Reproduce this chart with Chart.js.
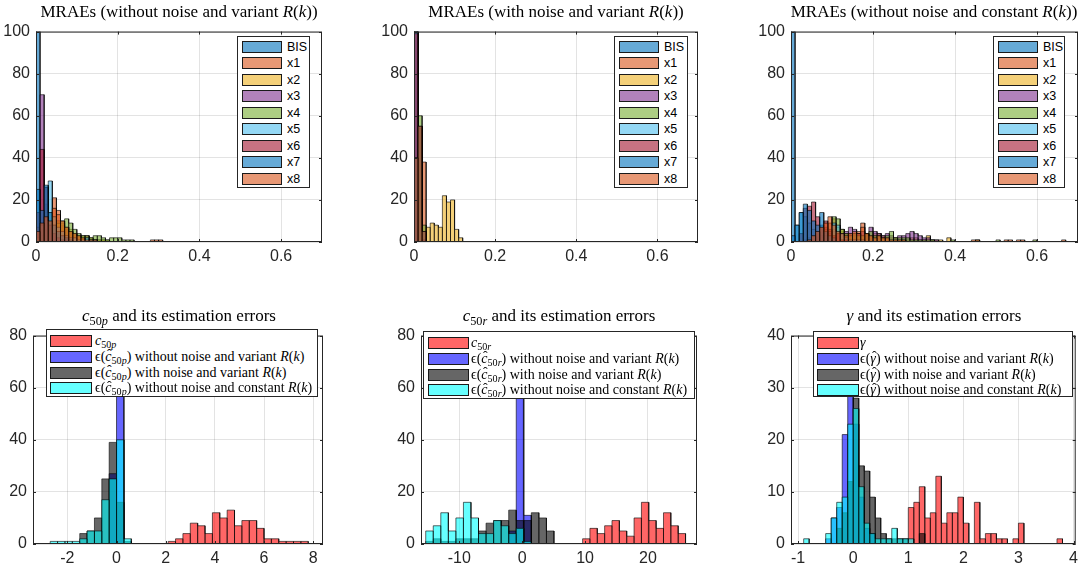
<!DOCTYPE html>
<html>
<head>
<meta charset="utf-8">
<script src="https://cdn.jsdelivr.net/npm/chart.js@4.4.1/dist/chart.umd.min.js"></script>
<style>
body { margin: 0; background: #fff; width: 1084px; height: 572px; position: relative; overflow: hidden; }
canvas { position: absolute; }
.title { position: absolute; font-family: "Liberation Serif", serif; font-size: 17px; color: #000; white-space: nowrap; transform: translate(-50%, -50%); }
.legend { position: absolute; background: #fff; border: 1px solid #262626; box-sizing: border-box; }
.row { position: absolute; left: 0; display: flex; align-items: center; white-space: nowrap; color: #000; }
.sw { box-sizing: border-box; border: 1px solid #1a1a1a; flex: none; }
.sans { font-family: "Liberation Sans", Arial, sans-serif; font-size: 12.5px; }
.serif { font-family: "Liberation Serif", serif; font-size: 14px; }
sub { font-size: 72%; vertical-align: -0.3em; line-height: 0; }
.hat { position: relative; display: inline-block; font-style: italic; }
.hat::after { content: 'ˆ'; position: absolute; left: 0.12em; top: -0.12em; font-style: normal; }
</style>
</head>
<body>
<canvas id="tl"></canvas>
<canvas id="tm"></canvas>
<canvas id="tr"></canvas>
<canvas id="bl"></canvas>
<canvas id="bm"></canvas>
<canvas id="br"></canvas>
<script>
// ---- data ----
const mraeNames = ['BIS', 'x1', 'x2', 'x3', 'x4', 'x5', 'x6', 'x7', 'x8'];
const mraeColors = ['0,114,189', '217,83,25', '237,177,32', '126,47,142', '119,172,48', '77,190,238', '162,20,47', '0,114,189', '217,83,25'];
const mraeBinWidth = 0.01;
const mraeTicksX = [0, 0.2, 0.4, 0.6];
const mraeTicksY = [0, 20, 40, 60, 80, 100];

// counts per bin (bins start at 0), one row per series BIS, x1..x8
const countsNoNoiseVariant = [
  [100],
  [7, 6, 7, 9, 21, 15, 8, 6, 5, 3, 2, 2, 3, 1, 1, 1, 1, 0, 0, 0, 0, 0, 0, 0, 0, 0, 0, 0, 1, 0, 1],
  [2, 8, 14, 14, 12, 10, 9, 7, 6, 4, 3, 3, 2, 2, 1, 1, 1, 1],
  [0, 70, 18, 6, 3, 2, 1],
  [0, 3, 6, 8, 8, 9, 10, 11, 9, 6, 4, 3, 3, 2, 3, 3, 2, 1, 2, 2, 2, 1, 1, 1],
  [0, 8, 26, 29, 12, 7, 5, 3, 2, 2, 1, 1, 2, 1, 1],
  [14, 44, 26, 8, 4, 2, 1, 1],
  [25, 15, 27, 14, 8, 5, 3, 2, 1],
  [5, 9, 12, 10, 16, 13, 10, 7, 5, 4, 3, 2, 1, 1, 1, 0, 0, 0, 0, 0, 0, 0, 0, 0, 0, 0, 0, 0, 0, 1]
];
const countsNoiseVariant = [
  [100],
  [8, 54, 38],
  [0, 0, 0, 7, 9, 8, 7, 22, 19, 20, 6, 2],
  [100],
  [32, 60, 8],
  [100],
  [99, 0, 1],
  [40, 55, 5],
  [40, 55, 5]
];
const countsNoNoiseConstant = [
  [100],
  [0, 0, 0, 1, 2, 3, 4, 6, 7, 9, 11, 7, 5, 4, 3, 4, 5, 9, 4, 3, 3, 2, 2, 2, 1, 1, 1, 1, 1, 0, 0, 0, 0, 0, 0, 0, 0, 0, 0, 0, 0, 0, 0, 0, 1, 0, 0, 0, 0, 0, 0, 0, 1, 0, 0, 1, 0, 0, 0, 0, 0, 0, 0, 0, 0, 0, 1],
  [0, 0, 0, 0, 1, 1, 2, 3, 4, 5, 6, 7, 6, 4, 4, 3, 4, 3, 4, 3, 4, 4, 3, 2, 2, 2, 1, 1, 1, 2, 2, 1, 1, 3, 1, 1, 1, 0, 2],
  [0, 0, 0, 0, 0, 1, 2, 3, 3, 4, 5, 4, 4, 5, 7, 6, 4, 5, 4, 7, 5, 4, 3, 4, 3, 2, 3, 3, 4, 5, 4, 3, 2, 2, 1, 1],
  [0, 0, 0, 0, 0, 0, 1, 2, 3, 4, 12, 11, 6, 4, 3, 4, 3, 3, 4, 5, 3, 3, 2, 3, 5, 2, 2, 2, 2, 1, 1, 1, 1, 1, 1, 0, 0, 0, 0, 1, 0, 0, 0, 0, 0, 1, 0, 0, 0, 0, 1, 0, 0, 0, 0, 0, 0, 0, 0, 1],
  [0, 8, 14, 12, 9, 6, 5, 8, 6, 5, 9, 8, 4, 2, 1, 1, 1, 1],
  [0, 0, 4, 16, 17, 19, 12, 7, 10, 6, 3, 4, 1, 1],
  [3, 8, 14, 18, 15, 10, 8, 14, 5, 3, 2],
  [0, 0, 0, 0, 1, 3, 5, 7, 9, 12, 8, 5, 4, 3, 4, 5, 4, 7, 4, 3, 2, 3, 2, 2, 1, 1, 1, 1, 0, 0, 0, 0, 0, 0, 0, 0, 0, 0, 0, 0, 0, 0, 0, 0, 0, 1, 0, 0, 0, 0, 0, 0, 0, 1, 0, 0, 1]
];

const errColors = ['255,0,0', '0,0,255', '0,0,0', '0,255,255'];

// c50p: red = c50p, blue / black / cyan = estimation errors
const c50pStart = [2.1, -0.3, -1.5, -2.7];
const c50pWidth = [0.3, 0.3, 0.3, 0.3];
const c50pCounts = [
  [1, 2, 4, 8, 7, 4, 12, 10, 13, 7, 9, 9, 6, 2, 2, 1, 1, 1, 1],
  [27, 73],
  [4, 5, 10, 25, 39, 16, 1],
  [1, 1, 1, 1, 2, 5, 5, 17, 25, 40, 2]
];
const c50pTicksX = [-2, 0, 2, 4, 6, 8];
const c50pTicksY = [0, 20, 40, 60, 80];

const c50rStart = [9.6, -2.15, -15.35, -15.35];
const c50rWidth = [1.17, 1.2, 1.2, 1.2];
const c50rCounts = [
  [2, 6, 4, 7, 9, 5, 3, 10, 16, 9, 6, 12, 7, 4],
  [5, 84, 11],
  [1, 2, 1, 1, 2, 2, 2, 5, 8, 9, 9, 13, 9, 9, 12, 10, 5],
  [5, 7, 12, 5, 10, 16, 10, 4, 4, 9, 7, 4, 6, 1]
];
const c50rTicksX = [-10, 0, 10, 20];
const c50rTicksY = [0, 20, 40, 60, 80];

const gammaStart = [1.0, -0.5, -0.3, -0.9];
const gammaWidth = [0.1, 0.1, 0.1, 0.1];
const gammaCounts = [
  [7, 8, 11, 5, 6, 13, 4, 6, 6, 9, 4, 0, 8, 1, 2, 2, 1, 1, 0, 1, 4, 0, 0, 0, 0, 0, 0, 1],
  [1, 5, 7, 21, 29, 23, 9, 3, 2],
  [3, 6, 12, 28, 15, 14, 9, 5, 2, 1, 1, 1, 1, 0, 0, 2],
  [1, 0, 0, 0, 2, 5, 8, 9, 23, 26, 11, 4, 2, 1, 1, 1, 3, 1, 1, 1]
];
const gammaTicksX = [-1, 0, 1, 2, 3, 4];
const gammaTicksY = [0, 10, 20, 30, 40];

const R = '<i>R</i>(<i>k</i>)';
const chat = (s) => '<span class="hat">c</span><sub>50<i>' + s + '</i></sub>';
const c50pLabels = ['<i>c</i><sub>50<i>p</i></sub>',
  'ϵ(' + chat('p') + ') without noise and variant ' + R,
  'ϵ(' + chat('p') + ') with noise and variant ' + R,
  'ϵ(' + chat('p') + ') without noise and constant ' + R];
const c50rLabels = ['<i>c</i><sub>50<i>r</i></sub>',
  'ϵ(' + chat('r') + ') without noise and variant ' + R,
  'ϵ(' + chat('r') + ') with noise and variant ' + R,
  'ϵ(' + chat('r') + ') without noise and constant ' + R];
const ghat = '<span class="hat">γ</span>';
const gammaLabels = ['<i>γ</i>',
  'ϵ(' + ghat + ') without noise and variant ' + R,
  'ϵ(' + ghat + ') with noise and variant ' + R,
  'ϵ(' + ghat + ') without noise and constant ' + R];

// ---- drawing ----
const PAD = 8, PADR = 6, XH = 24;
const axisColor = '#262626';

function histPoints(start, width, counts) {
  const pts = [];
  counts.forEach((c, i) => {
    const a = start + i * width, b = a + width;
    pts.push({x: a, y: 0}, {x: a, y: c}, {x: b, y: c}, {x: b, y: 0});
  });
  return pts;
}

const boxPlugin = {
  id: 'matlabBox',
  afterDatasetsDraw(chart) {
    const {ctx, chartArea: a, scales: {x, y}} = chart;
    ctx.save();
    ctx.strokeStyle = axisColor;
    ctx.lineWidth = 1;
    ctx.beginPath();
    x.ticks.forEach(t => {
      const px = Math.round(x.getPixelForValue(t.value)) + 0.5;
      ctx.moveTo(px, a.bottom); ctx.lineTo(px, a.bottom - 3);
      ctx.moveTo(px, a.top); ctx.lineTo(px, a.top + 3);
    });
    y.ticks.forEach(t => {
      const py = Math.round(y.getPixelForValue(t.value)) + 0.5;
      ctx.moveTo(a.left, py); ctx.lineTo(a.left + 3, py);
      ctx.moveTo(a.right, py); ctx.lineTo(a.right - 3, py);
    });
    ctx.stroke();
    ctx.strokeRect(a.left + 0.5, a.top + 0.5, a.right - a.left - 1, a.bottom - a.top - 1);
    ctx.restore();
  }
};

function drawPanel(id, plot, yW, xMin, xMax, yMax, xTicks, yTicks, sets) {
  const cv = document.getElementById(id);
  const w = plot.w + yW + PADR, h = plot.h + PAD + XH;
  cv.width = w; cv.height = h;
  cv.style.left = (plot.x - yW) + 'px';
  cv.style.top = (plot.y - PAD) + 'px';
  const tickFont = {family: '"Liberation Sans", Arial, sans-serif', size: 16};
  new Chart(cv, {
    type: 'scatter',
    data: {
      datasets: sets.map((s, i) => ({
        data: histPoints(s.start, s.width, s.counts),
        showLine: true,
        fill: 'origin',
        backgroundColor: 'rgba(' + s.rgb + ',0.6)',
        borderColor: 'rgba(0,0,0,0.75)',
        borderWidth: 0.8,
        pointRadius: 0,
        pointHoverRadius: 0,
        tension: 0,
        order: sets.length - i
      }))
    },
    options: {
      responsive: false,
      animation: false,
      events: [],
      layout: {padding: {top: PAD, right: PADR, left: 0, bottom: 0}},
      plugins: {legend: {display: false}, tooltip: {enabled: false}},
      scales: {
        x: {
          type: 'linear', min: xMin, max: xMax,
          afterBuildTicks: sc => { sc.ticks = xTicks.map(v => ({value: v})); },
          afterFit: sc => { sc.height = XH; },
          grid: {color: 'rgba(38,38,38,0.13)', drawTicks: false},
          border: {display: false},
          ticks: {padding: 5, font: tickFont, color: axisColor, maxRotation: 0, autoSkip: false}
        },
        y: {
          type: 'linear', min: 0, max: yMax,
          afterBuildTicks: sc => { sc.ticks = yTicks.map(v => ({value: v})); },
          afterFit: sc => { sc.width = yW; },
          grid: {color: 'rgba(38,38,38,0.13)', drawTicks: false},
          border: {display: false},
          ticks: {padding: 6, font: tickFont, color: axisColor, autoSkip: false}
        }
      }
    },
    plugins: [boxPlugin]
  });
}

function mraeSets(counts) {
  return counts.map((c, i) => ({start: 0, width: mraeBinWidth, counts: c, rgb: mraeColors[i]}));
}
function errSets(starts, widths, counts) {
  return counts.map((c, i) => ({start: starts[i], width: widths[i], counts: c, rgb: errColors[i]}));
}

drawPanel('tl', {x: 36, y: 24, w: 286, h: 218}, 36, 0, 0.7, 100, mraeTicksX, mraeTicksY, mraeSets(countsNoNoiseVariant));
drawPanel('tm', {x: 414, y: 24, w: 284, h: 218}, 40, 0, 0.7, 100, mraeTicksX, mraeTicksY, mraeSets(countsNoiseVariant));
drawPanel('tr', {x: 791, y: 24, w: 287, h: 218}, 40, 0, 0.7, 100, mraeTicksX, mraeTicksY, mraeSets(countsNoNoiseConstant));
drawPanel('bl', {x: 33, y: 328, w: 290, h: 216}, 33, -3.4, 8.4, 80, c50pTicksX, c50pTicksY, errSets(c50pStart, c50pWidth, c50pCounts));
drawPanel('bm', {x: 421, y: 328, w: 276, h: 216}, 40, -16.1, 27.8, 80, c50rTicksX, c50rTicksY, errSets(c50rStart, c50rWidth, c50rCounts));
drawPanel('br', {x: 791, y: 328, w: 286, h: 216}, 40, -1.13, 4.04, 40, gammaTicksX, gammaTicksY, errSets(gammaStart, gammaWidth, gammaCounts));

// ---- titles and legends (html overlays) ----
function addTitle(html, cx, cy) {
  const d = document.createElement('div');
  d.className = 'title';
  d.innerHTML = html;
  d.style.left = cx + 'px';
  d.style.top = cy + 'px';
  document.body.appendChild(d);
}
function addLegend(box, labels, colors, cls, sw, rowH, first, textX) {
  const lg = document.createElement('div');
  lg.className = 'legend';
  Object.assign(lg.style, {left: box.x + 'px', top: box.y + 'px', width: box.w + 'px', height: box.h + 'px'});
  labels.forEach((lab, i) => {
    const r = document.createElement('div');
    r.className = 'row ' + cls;
    r.style.top = (first + i * rowH - 9) + 'px';
    r.style.height = '18px';
    r.style.left = sw.x + 'px';
    r.innerHTML = '<div class="sw" style="width:' + sw.w + 'px;height:' + sw.h + 'px;background:rgba(' + colors[i] + ',0.6)"></div>' +
      '<span style="margin-left:' + (textX - sw.x - sw.w) + 'px">' + lab + '</span>';
    lg.appendChild(r);
  });
  document.body.appendChild(lg);
}

addTitle('MRAEs (without noise and variant ' + R + ')', 179, 12);
addTitle('MRAEs (with noise and variant ' + R + ')', 556, 12);
addTitle('MRAEs (without noise and constant ' + R + ')', 934, 12);
addTitle('<i>c</i><sub>50<i>p</i></sub> and its estimation errors', 179, 316);
addTitle('<i>c</i><sub>50<i>r</i></sub> and its estimation errors', 559, 316);
addTitle('<i>γ</i> and its estimation errors', 934, 316);

addLegend({x: 237, y: 36, w: 73, h: 152}, mraeNames, mraeColors, 'sans', {x: 4, w: 40, h: 12}, 16.5, 9.5, 49);
addLegend({x: 614, y: 36, w: 74, h: 152}, mraeNames, mraeColors, 'sans', {x: 4, w: 40, h: 12}, 16.5, 9.5, 49);
addLegend({x: 993, y: 36, w: 72, h: 152}, mraeNames, mraeColors, 'sans', {x: 4, w: 40, h: 12}, 16.5, 9.5, 49);
addLegend({x: 46, y: 329, w: 272, h: 68}, c50pLabels, errColors, 'serif', {x: 3, w: 42, h: 12}, 15.8, 11, 48);
addLegend({x: 423, y: 331, w: 272, h: 68}, c50rLabels, errColors, 'serif', {x: 4, w: 41, h: 12}, 15.8, 11, 47);
addLegend({x: 813, y: 331, w: 260, h: 66}, gammaLabels, errColors, 'serif', {x: 3, w: 42, h: 12}, 15.8, 11, 46);
</script>
</body>
</html>
